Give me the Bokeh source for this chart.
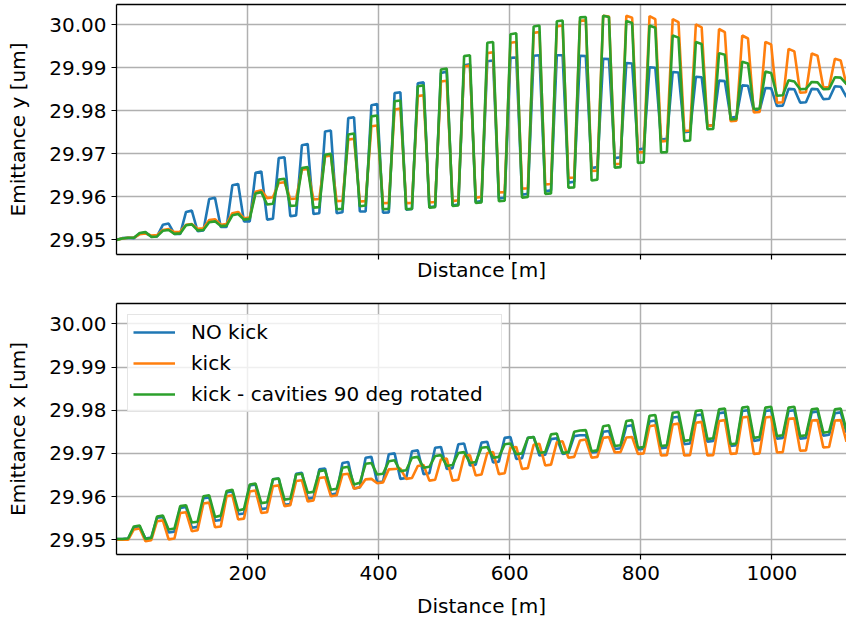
from bokeh.plotting import figure
from bokeh.layouts import column
from bokeh.models import (Range1d, FixedTicker, PrintfTickFormatter, Legend, LegendItem,
                          LinearAxis)
from bokeh.embed import file_html
from bokeh.resources import INLINE

# sampling step along the line [m]
step = 8.84

# ---- Emittance y [um] (top panel) ----
ey_nokick = [
    29.9500, 29.9504, 29.9505, 29.9504, 29.9515, 29.9517, 29.9508, 29.9508,
    29.9535, 29.9538, 29.9514, 29.9514, 29.9565, 29.9568, 29.9520, 29.9522,
    29.9595, 29.9598, 29.9530, 29.9530, 29.9627, 29.9630, 29.9543, 29.9543,
    29.9656, 29.9659, 29.9547, 29.9549, 29.9690, 29.9692, 29.9555, 29.9557,
    29.9720, 29.9723, 29.9560, 29.9562, 29.9752, 29.9754, 29.9562, 29.9564,
    29.9783, 29.9785, 29.9566, 29.9566, 29.9813, 29.9816, 29.9563, 29.9564,
    29.9841, 29.9843, 29.9570, 29.9572, 29.9864, 29.9866, 29.9576, 29.9578,
    29.9888, 29.9891, 29.9580, 29.9582, 29.9906, 29.9908, 29.9588, 29.9590,
    29.9915, 29.9917, 29.9596, 29.9598, 29.9923, 29.9924, 29.9605, 29.9607,
    29.9928, 29.9929, 29.9613, 29.9615, 29.9929, 29.9929, 29.9633, 29.9635,
    29.9928, 29.9927, 29.9667, 29.9669, 29.9921, 29.9920, 29.9690, 29.9692,
    29.9911, 29.9910, 29.9710, 29.9712, 29.9901, 29.9900, 29.9733, 29.9735,
    29.9890, 29.9889, 29.9750, 29.9752, 29.9879, 29.9878, 29.9765, 29.9767,
    29.9870, 29.9869, 29.9784, 29.9786, 29.9859, 29.9858, 29.9800, 29.9801,
    29.9853, 29.9852, 29.9811, 29.9812, 29.9851, 29.9850, 29.9819, 29.9820,
    29.9851, 29.9850, 29.9827, 29.9828, 29.9857, 29.9856, 29.9832,
]
ey_kick = [
    29.9500, 29.9503, 29.9505, 29.9505, 29.9513, 29.9515, 29.9510, 29.9511,
    29.9523, 29.9525, 29.9518, 29.9519, 29.9535, 29.9537, 29.9526, 29.9527,
    29.9546, 29.9548, 29.9535, 29.9537, 29.9562, 29.9565, 29.9550, 29.9552,
    29.9612, 29.9615, 29.9597, 29.9599, 29.9632, 29.9634, 29.9595, 29.9596,
    29.9663, 29.9665, 29.9594, 29.9595, 29.9694, 29.9696, 29.9590, 29.9591,
    29.9733, 29.9735, 29.9589, 29.9590, 29.9764, 29.9766, 29.9585, 29.9586,
    29.9803, 29.9805, 29.9585, 29.9586, 29.9834, 29.9836, 29.9587, 29.9588,
    29.9868, 29.9870, 29.9590, 29.9592, 29.9903, 29.9905, 29.9598, 29.9600,
    29.9934, 29.9936, 29.9610, 29.9611, 29.9958, 29.9960, 29.9619, 29.9620,
    29.9981, 29.9983, 29.9629, 29.9630, 29.9996, 29.9998, 29.9644, 29.9645,
    30.0009, 30.0010, 29.9660, 29.9661, 30.0021, 30.0019, 29.9676, 29.9677,
    30.0021, 30.0016, 29.9703, 29.9704, 30.0020, 30.0013, 29.9729, 29.9730,
    30.0013, 30.0006, 29.9753, 29.9754, 30.0001, 29.9994, 29.9765, 29.9766,
    29.9990, 29.9983, 29.9776, 29.9777, 29.9975, 29.9968, 29.9796, 29.9797,
    29.9960, 29.9954, 29.9819, 29.9820, 29.9944, 29.9938, 29.9842, 29.9843,
    29.9933, 29.9928, 29.9854, 29.9855, 29.9921, 29.9917, 29.9860,
]
ey_kick_rot = [
    29.9500, 29.9503, 29.9505, 29.9505, 29.9516, 29.9518, 29.9507, 29.9508,
    29.9521, 29.9523, 29.9514, 29.9515, 29.9534, 29.9536, 29.9522, 29.9523,
    29.9541, 29.9543, 29.9532, 29.9533, 29.9557, 29.9560, 29.9547, 29.9549,
    29.9608, 29.9611, 29.9582, 29.9584, 29.9640, 29.9642, 29.9579, 29.9580,
    29.9667, 29.9669, 29.9575, 29.9576, 29.9698, 29.9700, 29.9571, 29.9572,
    29.9745, 29.9747, 29.9578, 29.9580, 29.9787, 29.9789, 29.9571, 29.9572,
    29.9822, 29.9824, 29.9571, 29.9572, 29.9857, 29.9859, 29.9575, 29.9576,
    29.9896, 29.9898, 29.9579, 29.9580, 29.9927, 29.9929, 29.9586, 29.9587,
    29.9958, 29.9960, 29.9590, 29.9591, 29.9978, 29.9980, 29.9598, 29.9600,
    29.9996, 29.9998, 29.9607, 29.9608, 30.0008, 30.0010, 29.9621, 29.9622,
    30.0017, 30.0018, 29.9638, 29.9640, 30.0021, 30.0018, 29.9668, 29.9669,
    30.0009, 30.0004, 29.9679, 29.9680, 29.9998, 29.9993, 29.9703, 29.9704,
    29.9975, 29.9970, 29.9730, 29.9731, 29.9960, 29.9955, 29.9757, 29.9758,
    29.9934, 29.9930, 29.9780, 29.9781, 29.9914, 29.9910, 29.9804, 29.9805,
    29.9891, 29.9888, 29.9835, 29.9836, 29.9871, 29.9868, 29.9850, 29.9851,
    29.9867, 29.9866, 29.9850, 29.9851, 29.9878, 29.9877, 29.9862,
]

# ---- Emittance x [um] (bottom panel) ----
ex_nokick = [
    29.9502, 29.9502, 29.9503, 29.9528, 29.9530, 29.9503, 29.9505, 29.9551,
    29.9553, 29.9517, 29.9519, 29.9574, 29.9576, 29.9528, 29.9530, 29.9596,
    29.9598, 29.9544, 29.9546, 29.9610, 29.9612, 29.9559, 29.9561, 29.9626,
    29.9628, 29.9571, 29.9573, 29.9640, 29.9642, 29.9581, 29.9583, 29.9653,
    29.9655, 29.9595, 29.9597, 29.9663, 29.9665, 29.9605, 29.9607, 29.9678,
    29.9680, 29.9619, 29.9621, 29.9690, 29.9692, 29.9633, 29.9635, 29.9698,
    29.9700, 29.9641, 29.9643, 29.9705, 29.9707, 29.9652, 29.9654, 29.9713,
    29.9715, 29.9664, 29.9666, 29.9721, 29.9723, 29.9672, 29.9674, 29.9725,
    29.9727, 29.9679, 29.9681, 29.9736, 29.9738, 29.9687, 29.9689, 29.9736,
    29.9738, 29.9695, 29.9697, 29.9733, 29.9735, 29.9699, 29.9701, 29.9740,
    29.9742, 29.9742, 29.9702, 29.9704, 29.9750, 29.9752, 29.9710, 29.9712,
    29.9763, 29.9765, 29.9709, 29.9711, 29.9774, 29.9776, 29.9712, 29.9714,
    29.9783, 29.9785, 29.9721, 29.9723, 29.9788, 29.9790, 29.9727, 29.9729,
    29.9793, 29.9795, 29.9717, 29.9719, 29.9798, 29.9800, 29.9729, 29.9731,
    29.9798, 29.9800, 29.9734, 29.9736, 29.9798, 29.9800, 29.9734, 29.9736,
    29.9795, 29.9797, 29.9741, 29.9743, 29.9793, 29.9795, 29.9748,
]
ex_kick = [
    29.9500, 29.9500, 29.9500, 29.9524, 29.9526, 29.9497, 29.9499, 29.9543,
    29.9545, 29.9501, 29.9503, 29.9562, 29.9564, 29.9520, 29.9522, 29.9584,
    29.9586, 29.9529, 29.9531, 29.9601, 29.9603, 29.9547, 29.9549, 29.9612,
    29.9614, 29.9562, 29.9564, 29.9624, 29.9626, 29.9578, 29.9580, 29.9636,
    29.9638, 29.9589, 29.9591, 29.9643, 29.9645, 29.9601, 29.9603, 29.9651,
    29.9653, 29.9618, 29.9622, 29.9640, 29.9641, 29.9631, 29.9633, 29.9663,
    29.9664, 29.9665, 29.9641, 29.9643, 29.9671, 29.9673, 29.9637, 29.9639,
    29.9686, 29.9688, 29.9637, 29.9639, 29.9694, 29.9696, 29.9649, 29.9651,
    29.9701, 29.9703, 29.9652, 29.9654, 29.9713, 29.9715, 29.9664, 29.9666,
    29.9720, 29.9722, 29.9672, 29.9674, 29.9726, 29.9728, 29.9690, 29.9692,
    29.9730, 29.9732, 29.9690, 29.9692, 29.9736, 29.9738, 29.9702, 29.9703,
    29.9737, 29.9738, 29.9699, 29.9700, 29.9763, 29.9765, 29.9695, 29.9696,
    29.9767, 29.9769, 29.9695, 29.9696, 29.9771, 29.9773, 29.9695, 29.9696,
    29.9775, 29.9777, 29.9699, 29.9700, 29.9783, 29.9785, 29.9699, 29.9700,
    29.9783, 29.9785, 29.9702, 29.9703, 29.9780, 29.9781, 29.9706, 29.9707,
    29.9776, 29.9777, 29.9714, 29.9715, 29.9776, 29.9777, 29.9727,
]
ex_kick_rot = [
    29.9502, 29.9502, 29.9503, 29.9531, 29.9533, 29.9502, 29.9504, 29.9554,
    29.9556, 29.9524, 29.9526, 29.9578, 29.9580, 29.9540, 29.9542, 29.9601,
    29.9603, 29.9553, 29.9556, 29.9613, 29.9616, 29.9568, 29.9571, 29.9628,
    29.9630, 29.9585, 29.9587, 29.9640, 29.9642, 29.9593, 29.9595, 29.9651,
    29.9653, 29.9609, 29.9611, 29.9659, 29.9661, 29.9616, 29.9618, 29.9667,
    29.9669, 29.9628, 29.9632, 29.9676, 29.9678, 29.9651, 29.9653, 29.9682,
    29.9684, 29.9659, 29.9661, 29.9690, 29.9692, 29.9667, 29.9669, 29.9694,
    29.9696, 29.9671, 29.9673, 29.9701, 29.9703, 29.9678, 29.9680, 29.9713,
    29.9715, 29.9690, 29.9692, 29.9721, 29.9723, 29.9698, 29.9700, 29.9736,
    29.9738, 29.9701, 29.9703, 29.9744, 29.9746, 29.9701, 29.9703, 29.9750,
    29.9753, 29.9754, 29.9705, 29.9707, 29.9763, 29.9765, 29.9717, 29.9719,
    29.9775, 29.9777, 29.9713, 29.9715, 29.9787, 29.9789, 29.9717, 29.9719,
    29.9794, 29.9796, 29.9729, 29.9731, 29.9798, 29.9800, 29.9733, 29.9735,
    29.9802, 29.9804, 29.9721, 29.9723, 29.9806, 29.9808, 29.9736, 29.9738,
    29.9806, 29.9808, 29.9740, 29.9742, 29.9806, 29.9808, 29.9740, 29.9742,
    29.9802, 29.9804, 29.9748, 29.9750, 29.9802, 29.9804, 29.9754,
]

distance = [round(i * step, 2) for i in range(len(ey_nokick))]

labels = ["NO kick", "kick", "kick - cavities 90 deg rotated"]
colors = ["#1f77b4", "#ff7f0e", "#2ca02c"]
x_ticks = [200, 400, 600, 800, 1000]
y_ticks = [29.95, 29.96, 29.97, 29.98, 29.99, 30.00]

FONT = "DejaVu Sans"
FS = "20px"


def make_panel(height, border_top, border_bottom, ylabel, series, show_ticklabels):
    p = figure(width=846, height=height, output_backend="svg", toolbar_location=None,
               x_range=Range1d(distance[0], distance[-1]),
               y_range=Range1d(29.9466, 30.0047),
               min_border_left=116, min_border_right=0,
               min_border_top=border_top, min_border_bottom=border_bottom)
    p.background_fill_color = "white"
    p.border_fill_color = "white"
    # frame drawn with axis lines (left, bottom, top); the right side is cut off
    p.outline_line_color = None

    p.xgrid.ticker = FixedTicker(ticks=x_ticks)
    p.ygrid.ticker = FixedTicker(ticks=y_ticks)
    for g in (p.xgrid, p.ygrid):
        g.grid_line_color = "#b0b0b0"
        g.grid_line_width = 1.5

    xa = p.xaxis[0]
    ya = p.yaxis[0]
    xa.ticker = FixedTicker(ticks=x_ticks)
    ya.ticker = FixedTicker(ticks=y_ticks)
    ya.formatter = PrintfTickFormatter(format="%.2f")
    for ax in (xa, ya):
        ax.axis_line_color = "black"
        ax.axis_line_width = 1.3
        ax.major_tick_line_color = "black"
        ax.major_tick_line_width = 1.2
        ax.major_tick_out = 5
        ax.major_tick_in = 0
        ax.minor_tick_line_color = None
        ax.major_label_text_font = FONT
        ax.major_label_text_font_size = FS
        ax.major_label_text_color = "black"
        ax.axis_label_text_font = FONT
        ax.axis_label_text_font_size = FS
        ax.axis_label_text_font_style = "normal"
        ax.axis_label_text_color = "black"
    xa.axis_label = "Distance [m]"
    ya.axis_label = ylabel
    ya.major_label_standoff = 5
    ya.axis_label_standoff = 16
    if show_ticklabels:
        xa.major_label_standoff = 6
        xa.axis_label_standoff = 11
    else:
        # tick marks only, no tick labels (shared x axis)
        xa.major_label_text_font_size = "1px"
        xa.major_label_text_color = None
        xa.major_label_standoff = 0
        xa.axis_label_standoff = -2

    top_axis = LinearAxis(ticker=FixedTicker(ticks=[]), axis_line_color="black",
                          axis_line_width=1.3, major_tick_line_color=None,
                          minor_tick_line_color=None, major_tick_out=0, major_tick_in=0,
                          major_label_text_color=None, major_label_text_font_size="1px",
                          major_label_standoff=0)
    p.add_layout(top_axis, "above")

    renderers = []
    for ys, c in zip(series, colors):
        r = p.line(distance, ys, line_color=c, line_width=2.6)
        renderers.append(r)
    return p, renderers


top, _ = make_panel(290, 4, 36, "Emittance y [um]",
                    [ey_nokick, ey_kick, ey_kick_rot], False)
bottom, rends = make_panel(334, 13, 70, "Emittance x [um]",
                           [ex_nokick, ex_kick, ex_kick_rot], True)

legend = Legend(items=[LegendItem(label=l, renderers=[r]) for l, r in zip(labels, rends)],
                location="top_left")
legend.margin = 11
legend.padding = 5
legend.spacing = 7
legend.glyph_width = 42
legend.glyph_height = 20
legend.label_height = 20
legend.label_width = 305
legend.label_standoff = 16
legend.label_text_font = FONT
legend.label_text_font_size = FS
legend.label_text_color = "black"
legend.border_line_color = "#cccccc"
legend.border_line_width = 1.3
legend.background_fill_color = "white"
legend.background_fill_alpha = 0.8
bottom.add_layout(legend)

layout = column(top, bottom, spacing=0)

open("out.html", "w").write(file_html(layout, INLINE))
